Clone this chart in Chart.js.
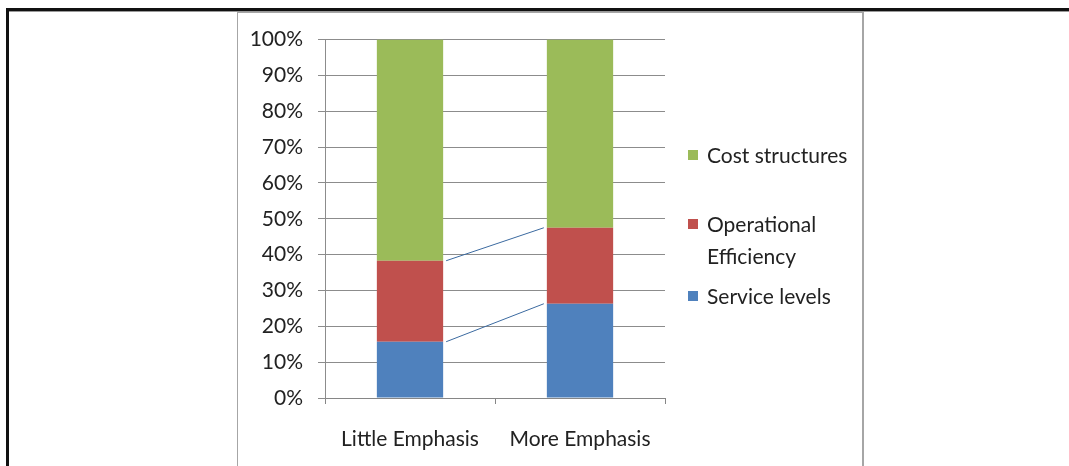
<!DOCTYPE html>
<html>
<head>
<meta charset="utf-8">
<script src="https://cdn.jsdelivr.net/npm/chart.js@4"></script>
<style>
  html, body { margin: 0; padding: 0; background: #fff; }
  body { width: 1069px; height: 466px; position: relative; overflow: hidden; font-family: Lato, "Open Sans", sans-serif; }
  #frameTop { position: absolute; left: 6px; top: 8px; width: 1063px; height: 3px; background: #111; }
  #frameTop2 { position: absolute; left: 6px; top: 11px; width: 1063px; height: 1px; background: #999; }
  #frameLeft { position: absolute; left: 6px; top: 8px; width: 3px; height: 458px; background: #111; }
  #box { position: absolute; left: 237px; top: 12px; width: 624px; height: 460px; border: 1px solid #a6a6a6; border-right: 2px solid #a6a6a6; border-bottom: none; }
  #wrap { position: absolute; left: 237px; top: 12px; width: 625px; height: 454px; }
  #legend { position: absolute; left: 688px; top: 0; font-size: 21px; color: #222; }
  .item { position: absolute; left: 0; white-space: nowrap; line-height: 32px; }
  .sw { position: absolute; left: 0; width: 10px; height: 10px; }
  .txt { position: absolute; left: 19px; }
</style>
</head>
<body>
<div id="frameTop"></div>
<div id="frameTop2"></div>
<div id="frameLeft"></div>
<div id="box"></div>
<div id="wrap"><canvas id="chart"></canvas></div>
<div id="legend"></div>
<script>
const categories = ["Little Emphasis", "More Emphasis"];
const serviceLevels = [15.7, 26.3];
const operationalEfficiency = [22.6, 21.2];
const costStructures = [61.7, 52.5];
const yTicks = [0, 10, 20, 30, 40, 50, 60, 70, 80, 90, 100];

const seriesNames = ["Service levels", "Operational Efficiency", "Cost structures"];
const seriesColors = ["#4f81bd", "#c0504d", "#9bbb59"];

// legend, top entry first like the original
const legendEl = document.getElementById("legend");
const legendRows = [
  { i: 2, lines: ["Cost structures"], top: 139 },
  { i: 1, lines: ["Operational", "Efficiency"], top: 208 },
  { i: 0, lines: ["Service levels"], top: 280 },
];
legendRows.forEach((r) => {
  const d = document.createElement("div");
  d.className = "item";
  d.style.top = r.top + "px";
  const sw = document.createElement("div");
  sw.className = "sw";
  sw.style.background = seriesColors[r.i];
  sw.style.top = "11px";
  d.appendChild(sw);
  const t = document.createElement("div");
  t.className = "txt";
  t.innerHTML = r.lines.join("<br>");
  d.appendChild(t);
  legendEl.appendChild(d);
});

// thin lines linking the tops of stacked segments between bars
const seriesLines = {
  id: "seriesLines",
  afterDatasetsDraw(chart) {
    const ctx = chart.ctx;
    const y = chart.scales.y;
    ctx.save();
    ctx.strokeStyle = "#3b6aa0";
    ctx.lineWidth = 1;
    [0, 1].forEach((di) => {
      const m0 = chart.getDatasetMeta(di).data[0];
      const m1 = chart.getDatasetMeta(di).data[1];
      let s0 = 0, s1 = 0;
      for (let k = 0; k <= di; k++) {
        s0 += chart.data.datasets[k].data[0];
        s1 += chart.data.datasets[k].data[1];
      }
      ctx.beginPath();
      ctx.moveTo(m0.x + m0.width / 2 + 3, y.getPixelForValue(s0));
      ctx.lineTo(m1.x - m1.width / 2 - 3, y.getPixelForValue(s1));
      ctx.stroke();
    });
    ctx.restore();
  },
};

const datasets = [serviceLevels, operationalEfficiency, costStructures].map((vals, i) => ({
  label: seriesNames[i],
  data: vals,
  backgroundColor: seriesColors[i],
  borderWidth: 0,
  barPercentage: 0.39,
  categoryPercentage: 1,
}));

new Chart(document.getElementById("chart"), {
  type: "bar",
  data: { labels: categories, datasets: datasets },
  options: {
    responsive: true,
    maintainAspectRatio: false,
    animation: false,
    layout: { autoPadding: false, padding: { top: 20, right: 197, left: 0, bottom: 0 } },
    plugins: { legend: { display: false }, tooltip: { enabled: false } },
    scales: {
      x: {
        stacked: true,
        grid: { offset: true, drawOnChartArea: false, color: "#868686", tickLength: 6 },
        border: { color: "#868686" },
        ticks: { color: "#222", padding: 23, font: { family: "Lato", size: 21 } },
        afterFit: (s) => { s.height = 68; },
      },
      y: {
        stacked: true,
        min: 0,
        max: 100,
        afterBuildTicks: (s) => { s.ticks = yTicks.map((v) => ({ value: v })); },
        grid: { color: "#8c8c8c", tickLength: 7 },
        border: { color: "#8c8c8c" },
        ticks: { color: "#222", padding: 15, font: { family: "Lato", size: 21 }, callback: (v) => v + "%" },
        afterFit: (s) => { s.width = 88; },
      },
    },
  },
  plugins: [seriesLines],
});
</script>
</body>
</html>
